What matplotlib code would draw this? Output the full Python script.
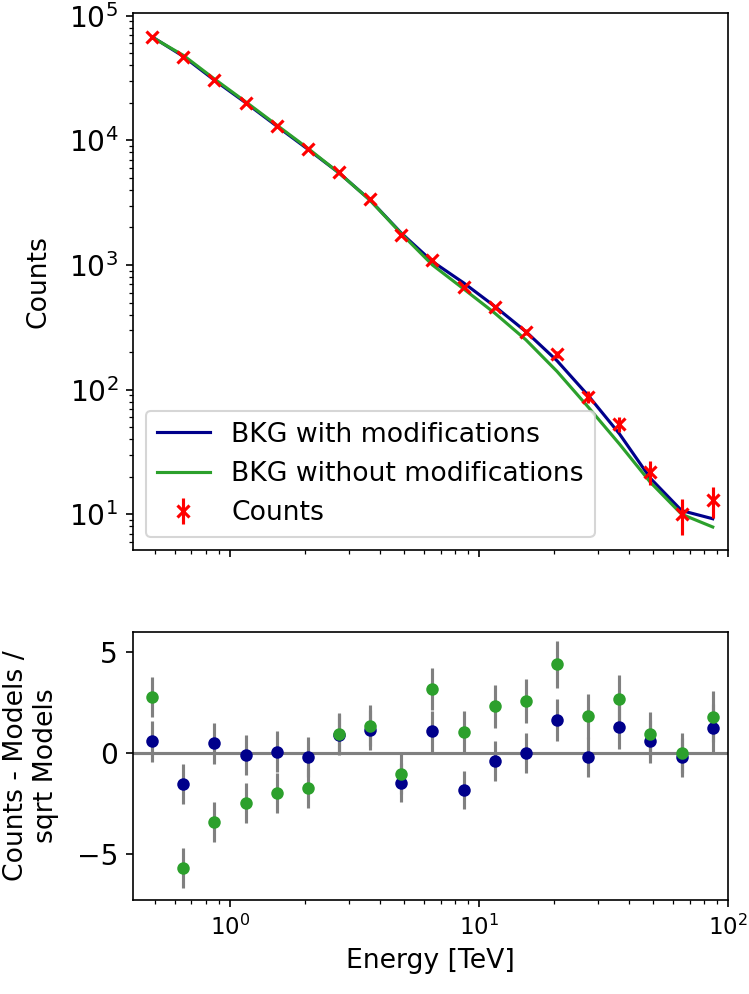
import numpy as np
import matplotlib
matplotlib.use("Agg")
import matplotlib.pyplot as plt

plt.rcParams['axes.labelsize'] = 12.8
plt.rcParams['legend.fontsize'] = 12.8
plt.rcParams['xtick.labelsize'] = 11
plt.rcParams['ytick.labelsize'] = 13.5

# bin centres [TeV], 8 bins per decade
energy = [0.4870, 0.6494, 0.8660, 1.1548, 1.5399, 2.0535, 2.7384, 3.6517,
          4.8697, 6.4938, 8.6596, 11.548, 15.399, 20.535, 27.384, 36.517,
          48.697, 64.938, 86.596]

counts = [67850, 46880, 30480, 20050, 13030, 8470, 5550, 3380, 1740, 1100,
          670, 458, 292, 192, 88, 53, 22, 10, 13]

bkg_mod = [67700, 47210, 30396, 20064, 13021, 8488, 5482, 3314, 1802, 1065,
           719, 466, 292, 170.5, 89.7, 44.3, 19.4, 10.7, 9.2]

bkg_nomod = [67130, 48130, 31080, 20402, 13260, 8631, 5479, 3302, 1784, 1000,
             643, 411, 251, 140, 72.5, 36.7, 18.0, 10.0, 7.9]

energy = np.array(energy)
counts = np.array(counts, dtype=float)
bkg_mod = np.array(bkg_mod)
bkg_nomod = np.array(bkg_nomod)

col_mod = 'darkblue'
col_nomod = 'tab:green'

fig = plt.figure(figsize=(749 / 150, 994 / 150), dpi=150)
ax1 = fig.add_axes([0.1772, 0.4462, 0.7952, 0.5410])
ax2 = fig.add_axes([0.1772, 0.0946, 0.7952, 0.2699], sharex=ax1)

ax1.plot(energy, bkg_mod, color=col_mod, label='BKG with modifications')
ax1.plot(energy, bkg_nomod, color=col_nomod, label='BKG without modifications')
ax1.errorbar(energy, counts, yerr=np.sqrt(counts), fmt='x', color='red',
             mew=1.5, label='Counts')
ax1.set_xscale('log')
ax1.set_yscale('log')
ax1.set_ylim(5.12, 1.057e5)
ax1.set_ylabel('Counts')
ax1.yaxis.set_label_coords(-0.137, 0.5)
ax1.legend(loc='lower left')
plt.setp(ax1.get_xticklabels(), visible=False)

# residuals (counts - model) / sqrt(model)
for model, col in [(bkg_mod, col_mod), (bkg_nomod, col_nomod)]:
    resid = (counts - model) / np.sqrt(model)
    err = np.sqrt(counts) / np.sqrt(model)
    ax2.errorbar(energy, resid, yerr=err, fmt='o', color=col, ecolor='grey',
                 ms=5)
ax2.axhline(0, color='grey')
ax2.set_xlim(0.407, 100)
ax2.set_ylim(-7.28, 6.02)
ax2.set_yticks([-5, 0, 5])
ax2.set_xlabel('Energy [TeV]')
ax2.set_ylabel('Counts - Models /\nsqrt Models')
ax2.yaxis.set_label_coords(-0.124, 0.5)

fig.savefig('out.png', dpi=150)
